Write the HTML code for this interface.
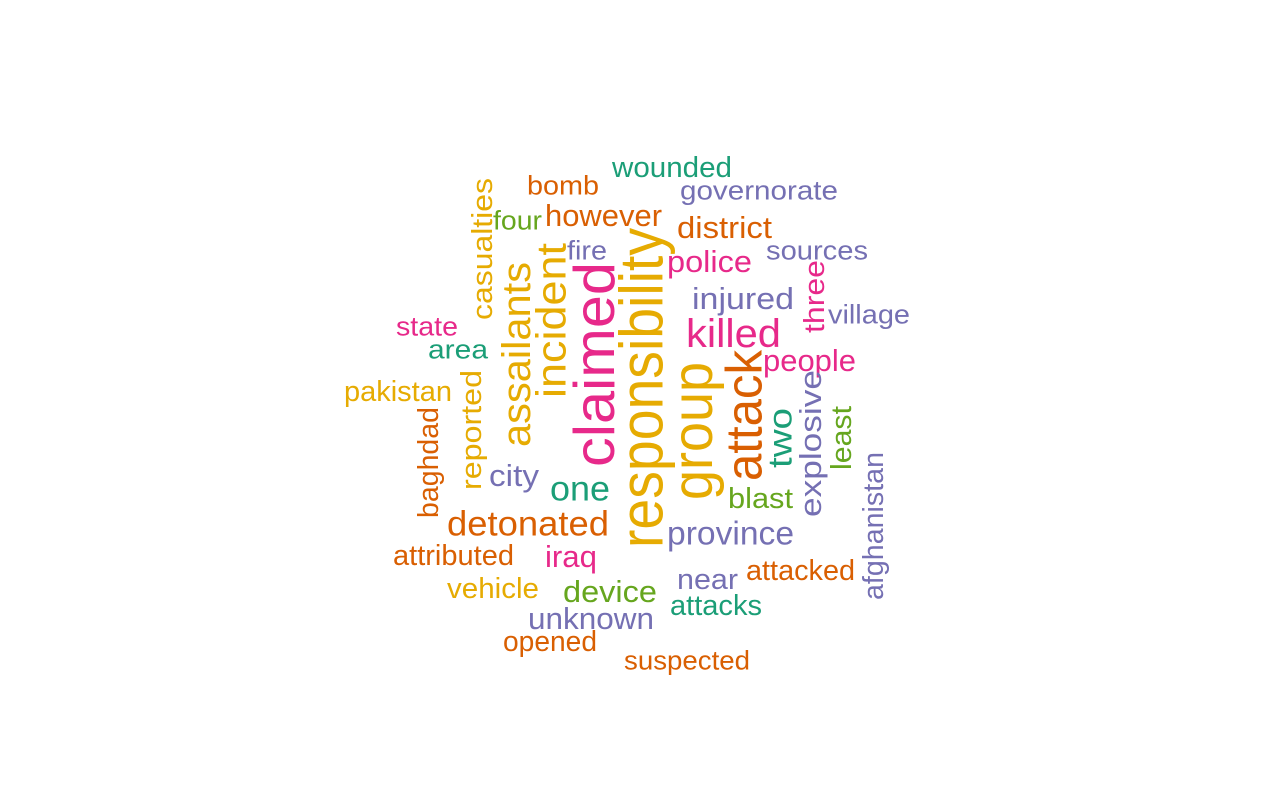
<!DOCTYPE html>
<html><head><meta charset="utf-8"><style>
html,body{margin:0;padding:0;background:#fff;width:1280px;height:800px;overflow:hidden}
text{font-family:"Liberation Sans",Arial,sans-serif}
</style></head><body>
<svg id="cloud" width="1280" height="800" viewBox="0 0 1280 800"></svg>
<script>
const words = ["wounded","bomb","governorate","four","however","district","fire","sources","police","injured","killed","village","state","area","people","pakistan","city","one","blast","detonated","province","attributed","iraq","vehicle","device","near","attacked","attacks","unknown","opened","suspected","casualties","assailants","incident","claimed","responsibility","group","attack","three","two","explosive","least","afghanistan","reported","baghdad"];
const vertical = [0,0,0,0,0,0,0,0,0,0,0,0,0,0,0,0,0,0,0,0,0,0,0,0,0,0,0,0,0,0,0,1,1,1,1,1,1,1,1,1,1,1,1,1,1];
const startPos = [612,527,680,493,545,677,567,766,667,692,686,828,396,428,763,344,489,550,728,447,667,393,545,447,563,677,746,670,528,503,624,178,262,243,262,228,362,350,260,408,370,406,452,370,407];
const endPos = [732,599,838,542,662,772,607,868,752,794,781,910,458,488,856,452,539,610,793,609,794,514,597,539,657,738,855,762,654,597,750,320,447,398,467,548,500,481,333,468,517,470,600,490,518];
const crossPos = [167,185,190,220,215,227,250,250,261,298,333,314,326,349,360,391,475,488,498,523,533,555,556,588,591,579,570,605,618,641,660,482,516,551,594,641,692,744,814,780,810,841,873,471,428];
const fontSizes = [26,24,24,24,28,28,24,24,28,28,36,24,24,24,28,26,28,32,26,32,30,26,28,26,28,26,26,26,28,26,24,26,36,38,52,56,52,46,26,30,28,26,26,26,26];
const colorIdx = [0,1,2,4,1,1,2,2,3,2,3,2,3,0,3,5,2,0,4,1,2,1,3,5,4,2,1,0,2,1,1,5,5,5,3,5,5,1,3,0,2,4,2,5,1];
const palette = ["#1B9E77","#D95F02","#7570B3","#E7298A","#66A61E","#E6AB02"];
const svg = document.getElementById('cloud');
const NS = "http://www.w3.org/2000/svg";
words.forEach((w,i)=>{
  const t = document.createElementNS(NS,'text');
  const mid = (startPos[i]+endPos[i])/2;
  const len = endPos[i]-startPos[i];
  if(vertical[i]){
    t.setAttribute('transform',`translate(${crossPos[i]},${mid}) rotate(-90)`);
  } else {
    t.setAttribute('transform',`translate(${mid},${crossPos[i]})`);
  }
  t.setAttribute('text-anchor','middle');
  t.setAttribute('dy','0.35em');
  t.setAttribute('font-size',(fontSizes[i]*1.1).toFixed(1));
  t.setAttribute('fill',palette[colorIdx[i]]);
  t.setAttribute('textLength',len);
  t.setAttribute('lengthAdjust','spacingAndGlyphs');
  t.textContent = w;
  
  
  svg.appendChild(t);
});
</script>
</body></html>
